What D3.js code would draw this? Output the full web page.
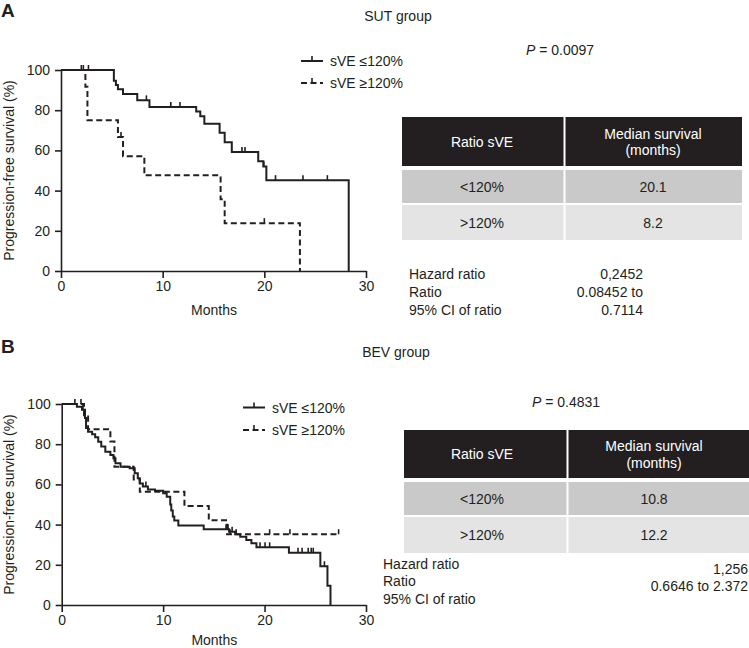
<!DOCTYPE html>
<html><head><meta charset="utf-8">
<script src="https://cdn.jsdelivr.net/npm/d3@7"></script>
<style>body{margin:0;background:#fff} svg{display:block;font-family:"Liberation Sans",Arial,Helvetica,sans-serif}</style>
</head><body><svg id="c" width="749" height="648"></svg>
<script>
// ---------- data ----------
const monthTicks = [0, 10, 20, 30];
const survTicks = [0, 20, 40, 60, 80, 100];
const legendLabels = ["sVE \u2264120%", "sVE \u2265120%"];

// Panel A (SUT group)
const aLowT = [5.2, 5.4, 5.6, 6.1, 7.5, 8.7, 13.3, 13.7, 14.1, 15.6, 16.1, 16.8, 19.4, 19.9, 20.2, 28.3];
const aLowS = [94.7, 92.5, 90.4, 88.0, 84.9, 81.6, 79.3, 77.0, 73.2, 68.8, 64.0, 59.2, 54.6, 52.0, 45.2, 0];
const aLowCens = [2.0, 2.7, 8.4, 10.8, 11.7, 17.8, 18.1, 19.95, 21.1, 23.8, 26.2];
const aHighT = [2.4, 2.6, 5.6, 6.1, 8.2, 15.7, 16.1, 23.5];
const aHighS = [91.7, 75, 66.7, 57.1, 47.6, 35.7, 23.8, 0];
const aHighCens = [2.2, 5.9, 20.0];

// Panel B (BEV group)
const bLowT = [1.5, 2.0, 2.3, 2.4, 2.6, 3.0, 3.3, 3.6, 3.9, 4.3, 4.8, 5.1, 5.3, 5.8, 6.7, 7.2, 7.5, 7.7, 8.0, 8.5, 9.2, 10.0, 10.35, 10.7, 10.8, 10.95, 11.1, 11.5, 14.0, 16.5, 17.1, 17.6, 18.2, 18.7, 19.2, 22.4, 25.5, 26.2, 26.5];
const bLowS = [98.6, 97.2, 93.0, 88.0, 86.2, 84.9, 83.5, 81.2, 78.8, 76.3, 74.6, 73.0, 70.5, 68.8, 68.0, 65.5, 63.0, 60.5, 58.9, 57.5, 56.8, 55.6, 53.9, 50.0, 47.0, 44.0, 42.0, 39.5, 37.7, 36.5, 35.2, 34.0, 32.3, 30.7, 28.7, 26.0, 19.3, 9.6, 0];
const bLowCens = [1.3, 2.1, 8.3, 16.2, 16.4, 16.8, 19.55, 20.05, 20.5, 23.3, 23.7, 24.3, 24.6, 24.8, 25.9];
const bHighT = [2.2, 2.6, 4.8, 5.2, 7.1, 7.7, 12.1, 14.5, 16.3];
const bHighS = [93.8, 87.5, 81.3, 68.8, 62.5, 56.3, 49.2, 42.2, 35.2];
const bHighCens = [1.9, 16.6, 17.2, 20.5, 22.5, 27.3];
const bHighEnd = 27.3;

// Tables
const tableHeader = ["Ratio sVE", ["Median survival", "(months)"]];
const aRowLabels = ["<120%", ">120%"];
const aRowValues = ["20.1", "8.2"];
const bRowLabels = ["<120%", ">120%"];
const bRowValues = ["10.8", "12.2"];
const statLabels = ["Hazard ratio", "Ratio", "95% CI of ratio"];
const aStatValues = ["0,2452", "0.08452 to", "0.7114"];
const bStatValues = ["1,256", "0.6646 to 2.372"];
const aPValue = "0.0097";
const bPValue = "0.4831";

// ---------- drawing ----------
const INK = "#231f20";
const svg = d3.select("#c");

function survAt(T, S, t) {
  let s = 100;
  for (let i = 0; i < T.length; i++) if (T[i] <= t) s = S[i];
  return s;
}

function panel(cfg) {
  const g = svg.append("g");
  const x = d3.scaleLinear().domain([0, 30]).range([cfg.x0, cfg.x1]);
  const y = d3.scaleLinear().domain([0, 100]).range([cfg.yb, cfg.yt]);

  const xa = g.append("g").attr("transform", `translate(0,${cfg.yb})`)
    .call(d3.axisBottom(x).tickValues(monthTicks).tickSize(7).tickSizeOuter(0).tickPadding(3));
  const ya = g.append("g").attr("transform", `translate(${cfg.x0},0)`)
    .call(d3.axisLeft(y).tickValues(survTicks).tickSize(6).tickSizeOuter(0).tickPadding(5));
  [xa, ya].forEach(a => {
    a.attr("font-size", 14).attr("font-family", null);
    a.selectAll("path,line").attr("stroke", INK).attr("stroke-width", 1.6);
    a.selectAll("text").attr("fill", INK);
  });

  g.append("text").attr("x", (cfg.x0 + cfg.x1) / 2 + 0.5).attr("y", cfg.monthsY)
    .attr("text-anchor", "middle").attr("font-size", 14).attr("fill", INK).text("Months");
  g.append("text").attr("transform", `translate(9,${(cfg.yt + cfg.yb) / 2}) rotate(-90)`)
    .attr("text-anchor", "middle").attr("dy", "0.35em").attr("font-size", 14).attr("fill", INK)
    .text("Progression-free survival (%)");

  const line = d3.line().x(d => x(d[0])).y(d => y(d[1])).curve(d3.curveStepAfter);
  cfg.curves.forEach(c => {
    const pts = [[0, 100]].concat(c.T.map((t, i) => [t, c.S[i]]));
    if (c.end != null && c.end > c.T[c.T.length - 1]) pts.push([c.end, c.S[c.S.length - 1]]);
    g.append("path").attr("d", line(pts)).attr("fill", "none").attr("stroke", INK)
      .attr("stroke-width", 2).attr("stroke-dasharray", c.dash ? "6,3.5" : null);
    g.selectAll(null).data(c.C).join("line")
      .attr("x1", d => x(d)).attr("x2", d => x(d))
      .attr("y1", d => y(survAt(c.T, c.S, d))).attr("y2", d => y(survAt(c.T, c.S, d)) - 5)
      .attr("stroke", INK).attr("stroke-width", 1.6);
  });

  // legend
  legendLabels.forEach((lab, i) => {
    const ly = cfg.legY[i], lx = cfg.legX;
    g.append("line").attr("x1", lx).attr("x2", lx + 22).attr("y1", ly).attr("y2", ly)
      .attr("stroke", INK).attr("stroke-width", 2).attr("stroke-dasharray", i ? "6,3.5" : null);
    g.append("line").attr("x1", lx + 11).attr("x2", lx + 11).attr("y1", ly).attr("y2", ly - 5)
      .attr("stroke", INK).attr("stroke-width", 1.6);
    g.append("text").attr("x", lx + 29).attr("y", ly + 5).attr("font-size", 14).attr("fill", INK).text(lab);
  });

  // panel letter + title + P value
  g.append("text").attr("x", 1).attr("y", cfg.letterY).attr("font-size", 19).attr("font-weight", "bold")
    .attr("fill", INK).text(cfg.letter);
  g.append("text").attr("x", cfg.titleX).attr("y", cfg.letterY + 4).attr("text-anchor", "middle")
    .attr("font-size", 14).attr("fill", INK).text(cfg.title);
  const pt = g.append("text").attr("x", cfg.pX).attr("y", cfg.pY).attr("text-anchor", "middle")
    .attr("font-size", 14).attr("fill", INK);
  pt.append("tspan").attr("font-style", "italic").text("P");
  pt.append("tspan").text(" = " + cfg.p);

  // table
  const t = cfg.table;
  const rowsY = [[t.hTop, t.hBot], [t.r1Top, t.r1Bot], [t.r2Top, t.r2Bot]];
  const fills = ["#231f20", "#c9c9c9", "#e4e4e4"];
  rowsY.forEach((r, i) => {
    g.append("rect").attr("x", t.left).attr("y", r[0]).attr("width", t.div - 1 - t.left)
      .attr("height", r[1] - r[0]).attr("fill", fills[i]);
    g.append("rect").attr("x", t.div + 1).attr("y", r[0]).attr("width", t.right - t.div - 1)
      .attr("height", r[1] - r[0]).attr("fill", fills[i]);
  });
  const c1 = t.c1, c2 = t.c2;
  const hMid = (t.hTop + t.hBot) / 2;
  g.append("text").attr("x", c1).attr("y", hMid + 5).attr("text-anchor", "middle")
    .attr("font-size", 14).attr("fill", "#fff").text(tableHeader[0]);
  tableHeader[1].forEach((s, i) => {
    g.append("text").attr("x", c2).attr("y", hMid - 3 + i * 16.7).attr("text-anchor", "middle")
      .attr("font-size", 14).attr("fill", "#fff").text(s);
  });
  cfg.rowLabels.forEach((lab, i) => {
    const r = rowsY[i + 1], m = (r[0] + r[1]) / 2;
    g.append("text").attr("x", c1).attr("y", m + 5).attr("text-anchor", "middle")
      .attr("font-size", 14).attr("fill", INK).text(lab);
    g.append("text").attr("x", c2).attr("y", m + 5).attr("text-anchor", "middle")
      .attr("font-size", 14).attr("fill", INK).text(cfg.rowValues[i]);
  });

  // stats
  statLabels.forEach((s, i) => {
    g.append("text").attr("x", cfg.statX).attr("y", cfg.statY + i * cfg.statDy)
      .attr("font-size", 14).attr("fill", INK).text(s);
  });
  cfg.statValues.forEach((s, i) => {
    g.append("text").attr("x", cfg.valX).attr("y", cfg.valY + i * cfg.statDy).attr("text-anchor", "end")
      .attr("font-size", 14).attr("fill", INK).text(s);
  });
}

panel({
  letter: "A", title: "SUT group", letterY: 17, titleX: 398,
  x0: 61, x1: 366, yt: 70, yb: 271, monthsY: 315,
  curves: [
    { T: aLowT, S: aLowS, C: aLowCens, dash: false },
    { T: aHighT, S: aHighS, C: aHighCens, dash: true }
  ],
  legX: 301, legY: [61, 83],
  p: aPValue, pX: 560, pY: 55,
  table: { left: 402, right: 742, div: 564.5, hTop: 117, hBot: 166, r1Top: 170, r1Bot: 203, r2Top: 205, r2Bot: 240, c1: 482, c2: 653 },
  rowLabels: aRowLabels, rowValues: aRowValues,
  statX: 409, statY: 279, statDy: 18, statValues: aStatValues, valX: 643, valY: 279
});

panel({
  letter: "B", title: "BEV group", letterY: 353, titleX: 396,
  x0: 61.7, x1: 366, yt: 404, yb: 605, monthsY: 645,
  curves: [
    { T: bLowT, S: bLowS, C: bLowCens, dash: false },
    { T: bHighT, S: bHighS, C: bHighCens, dash: true, end: bHighEnd }
  ],
  legX: 243, legY: [407.5, 430],
  p: bPValue, pX: 566, pY: 407,
  table: { left: 404, right: 749, div: 567.5, hTop: 430, hBot: 478, r1Top: 482, r1Bot: 515, r2Top: 517, r2Bot: 553, c1: 482, c2: 654 },
  rowLabels: bRowLabels, rowValues: bRowValues,
  statX: 383, statY: 568.5, statDy: 17.5, statValues: bStatValues, valX: 748, valY: 573.5
});
</script></body></html>
